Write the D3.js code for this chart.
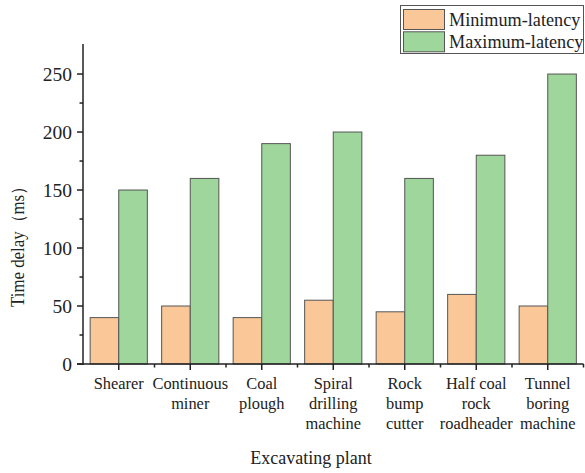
<!DOCTYPE html>
<html>
<head>
<meta charset="utf-8">
<script src="https://cdn.jsdelivr.net/npm/d3@7"></script>
<style>
  html, body { margin: 0; padding: 0; background: #fff; }
  svg { display: block; }
  text { font-family: "Liberation Serif", "Times New Roman", serif; fill: #222; }
</style>
</head>
<body>
<svg id="chart" width="585" height="473"></svg>
<script>
const categories = [
  ["Shearer"],
  ["Continuous", "miner"],
  ["Coal", "plough"],
  ["Spiral", "drilling", "machine"],
  ["Rock", "bump", "cutter"],
  ["Half coal", "rock", "roadheader"],
  ["Tunnel", "boring", "machine"]
];
const minLatency = [40, 50, 40, 55, 45, 60, 50];
const maxLatency = [150, 160, 190, 200, 160, 180, 250];
const seriesNames = ["Minimum-latency", "Maximum-latency"];
const seriesColors = ["#FAC898", "#9ED69B"];
const yTicks = [0, 50, 100, 150, 200, 250];
const yMinorTicks = [25, 75, 125, 175, 225];

const svg = d3.select("#chart");
const mLeft = 83, mRight = 583.5, mTop = 44, mBottom = 364;

const keys = categories.map((c, i) => i);
const x = d3.scaleBand().domain(keys).range([mLeft, mRight]).paddingInner(0.2).paddingOuter(0.1);
const xSub = d3.scaleBand().domain([0, 1]).range([0, x.bandwidth()]);
const y = d3.scaleLinear().domain([0, 275.9]).range([mBottom, mTop]);

const series = [minLatency, maxLatency];

// bars
series.forEach((vals, s) => {
  svg.append("g").selectAll("rect").data(vals).join("rect")
    .attr("x", (d, i) => x(i) + xSub(s))
    .attr("y", d => y(d))
    .attr("width", xSub.bandwidth())
    .attr("height", d => y(0) - y(d))
    .attr("fill", seriesColors[s])
    .attr("stroke", "#555")
    .attr("stroke-width", 1);
});

// y axis
const yAxis = svg.append("g").attr("transform", `translate(${mLeft},0)`);
yAxis.append("line").attr("x1", 0).attr("x2", 0).attr("y1", mTop).attr("y2", mBottom + 1)
  .attr("stroke", "#222").attr("stroke-width", 1.5);
yAxis.selectAll(".maj").data(yTicks).join("line")
  .attr("x1", -6).attr("x2", 0).attr("y1", d => y(d)).attr("y2", d => y(d))
  .attr("stroke", "#222").attr("stroke-width", 1.5);
yAxis.selectAll(".min").data(yMinorTicks).join("line")
  .attr("x1", -3.5).attr("x2", 0).attr("y1", d => y(d)).attr("y2", d => y(d))
  .attr("stroke", "#222").attr("stroke-width", 1.5);
yAxis.selectAll("text").data(yTicks).join("text")
  .attr("x", -11).attr("y", d => y(d)).attr("dy", "0.34em")
  .attr("text-anchor", "end").attr("font-size", "19.5px")
  .text(d => d);

// x axis
const xAxis = svg.append("g");
xAxis.append("line").attr("x1", mLeft - 6).attr("x2", mRight).attr("y1", mBottom).attr("y2", mBottom)
  .attr("stroke", "#222").attr("stroke-width", 1.5);
xAxis.selectAll(".maj").data(keys).join("line")
  .attr("x1", d => x(d) + x.bandwidth() / 2).attr("x2", d => x(d) + x.bandwidth() / 2)
  .attr("y1", mBottom).attr("y2", mBottom + 6)
  .attr("stroke", "#222").attr("stroke-width", 1.5);
const boundaries = keys.map(i => x(i) - x.step() * x.paddingOuter() + x.step());
xAxis.selectAll(".min").data(boundaries).join("line")
  .attr("x1", d => d).attr("x2", d => d)
  .attr("y1", mBottom).attr("y2", mBottom + 3.5)
  .attr("stroke", "#222").attr("stroke-width", 1.5);
const labels = xAxis.selectAll(".lab").data(categories).join("text")
  .attr("text-anchor", "middle").attr("font-size", "16.4px");
labels.each(function(lines, i) {
  const t = d3.select(this);
  lines.forEach((ln, j) => {
    t.append("tspan").attr("x", x(i) + x.bandwidth() / 2).attr("y", 389 + j * 20).text(ln);
  });
});

// axis titles
svg.append("text").attr("x", 311).attr("y", 464).attr("text-anchor", "middle")
  .attr("font-size", "18px").text("Excavating plant");
svg.append("text")
  .attr("transform", "translate(24,242.5) rotate(-90)")
  .attr("text-anchor", "middle").attr("font-size", "18px")
  .attr("textLength", 129).attr("lengthAdjust", "spacingAndGlyphs")
  .text("Time delay（ms）");

// legend
const lg = svg.append("g");
lg.append("rect").attr("x", 400.5).attr("y", 5.5).attr("width", 183).attr("height", 48)
  .attr("fill", "#fff").attr("stroke", "#555").attr("stroke-width", 1);
seriesNames.forEach((name, s) => {
  const yy = 9.5 + s * 22.3;
  lg.append("rect").attr("x", 403.5).attr("y", yy).attr("width", 41).attr("height", 20)
    .attr("fill", seriesColors[s]).attr("stroke", "#555").attr("stroke-width", 1);
  lg.append("text").attr("x", 449).attr("y", yy + 10).attr("dy", "0.34em")
    .attr("font-size", "18.2px").text(name);
});
</script>
</body>
</html>
